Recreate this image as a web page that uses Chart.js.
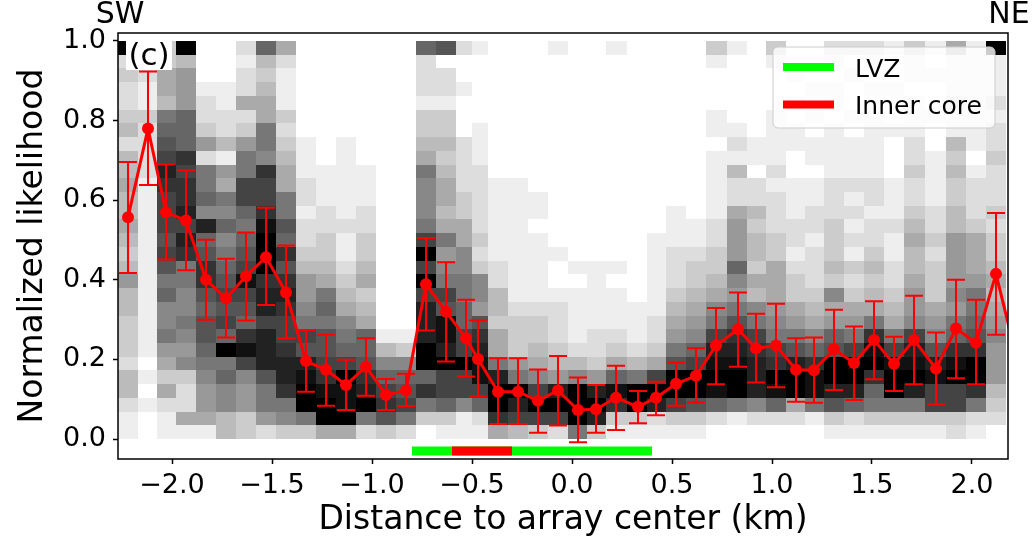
<!DOCTYPE html>
<html>
<head>
<meta charset="utf-8">
<script src="https://cdn.jsdelivr.net/npm/chart.js@4.4.1/dist/chart.umd.min.js"></script>
<style>
	html, body { margin: 0; padding: 0; background: #ffffff; }
	#wrap { position: relative; width: 1032px; height: 541px; }
</style>
</head>
<body>
<div id="wrap"><canvas id="chart"></canvas></div>
<script>
// station positions along the profile (km) and the picked likelihood with its error bar
const stationKm = [-2.22, -2.12, -2.03, -1.93, -1.83, -1.73, -1.63, -1.53, -1.43, -1.33,
	-1.23, -1.13, -1.03, -0.93, -0.83, -0.73, -0.63, -0.53, -0.47, -0.37,
	-0.27, -0.17, -0.07, 0.03, 0.12, 0.22, 0.33, 0.42, 0.52, 0.62,
	0.72, 0.83, 0.92, 1.02, 1.12, 1.21, 1.31, 1.41, 1.51, 1.61,
	1.71, 1.82, 1.92, 2.02, 2.12, 2.22];
const likelihood = [0.557, 0.780, 0.570, 0.549, 0.400, 0.354, 0.409, 0.457, 0.368, 0.196,
	0.174, 0.136, 0.182, 0.111, 0.122, 0.389, 0.320, 0.253, 0.201, 0.119,
	0.119, 0.096, 0.122, 0.073, 0.075, 0.104, 0.081, 0.104, 0.139, 0.159,
	0.235, 0.276, 0.228, 0.235, 0.174, 0.173, 0.226, 0.191, 0.249, 0.189,
	0.249, 0.177, 0.278, 0.242, 0.415, 0.21];
const errorHigh = [0.696, 0.923, 0.690, 0.675, 0.501, 0.453, 0.519, 0.581, 0.486, 0.274,
	0.262, 0.199, 0.253, 0.151, 0.164, 0.505, 0.444, 0.350, 0.298, 0.203,
	0.203, 0.175, 0.209, 0.155, 0.136, 0.184, 0.121, 0.144, 0.192, 0.228,
	0.329, 0.368, 0.315, 0.340, 0.253, 0.255, 0.325, 0.283, 0.346, 0.257,
	0.360, 0.268, 0.400, 0.350, 0.568, null];
const errorLow = [0.417, 0.638, 0.451, 0.424, 0.300, 0.255, 0.298, 0.337, 0.253, 0.119,
	0.084, 0.073, 0.109, 0.073, 0.083, 0.273, 0.195, 0.157, 0.107, 0.038,
	0.038, 0.016, 0.034, -0.008, 0.016, 0.023, 0.040, 0.060, 0.084, 0.092,
	0.138, 0.182, 0.142, 0.130, 0.094, 0.091, 0.123, 0.098, 0.150, 0.121,
	0.138, 0.087, 0.153, 0.138, 0.262, null];

// likelihood density per station, 29 bins from 1.0 (first char) down to 0.0,
// level 0 (white) .. f (black)
const densityColumns = [
	"f2322 34244 54454 34644 33324 4211",
	"12211 32222 11111 11111 11101 0100",
	"33554 89abd cbbba ba897 78653 5211",
	"f4666 999cb ccdbd c8877 87673 2251",
	"00012 23628 897d9 acca9 aa987 6651",
	"00011 22416 58797 89aba b9f89 7744",
	"21225 23688 bb989 abeba 9ceb7 6633",
	"94345 5887c bbcef ffcdd bddda 8862",
	"52111 32345 588a9 cacdc bbcdd c873",
	"00000 00111 22122 34667 8bade ff83",
	"00000 00001 11223 34589 8aabc eff5",
	"00000 00111 11121 12345 789bf eef5",
	"00000 00001 11223 34534 599ac df82",
	"00000 00000 00000 00000 01479 bca3",
	"00000 00000 00000 00000 01379 ab82",
	"92221 33458 7778b fbfbd ddff9 c830",
	"a0221 33434 55458 678ba eedfb b931",
	"20010 00222 23355 77889 9bbfb b711",
	"10000 01112 22223 23776 acdee b921",
	"00000 00000 11111 12244 3558d ffc5",
	"00000 00000 11111 11112 33368 fdb4",
	"00000 00000 01101 11112 33457 bfb3",
	"10000 00000 00000 10012 22346 dfb2",
	"00000 00000 00000 01011 11247 fff8",
	"00000 00000 00000 01111 12236 dfd3",
	"10000 00000 00000 01011 12359 ec31",
	"00000 00000 00000 00001 11248 ff31",
	"00000 00000 00001 11111 2235b fd21",
	"00000 00000 00111 22234 568af fb31",
	"00000 00000 00011 23345 679bf fa31",
	"31000 11011 11122 33457 8bdef e920",
	"10000 01214 22566 69768 acdef f810",
	"00000 00110 22434 43547 8bcdd d720",
	"31000 11112 12223 35556 78bcf e920",
	"00101 01100 11122 12335 68adf f520",
	"00010 10110 11221 22234 579ce e810",
	"21011 01111 22233 34375 69aff da31",
	"20100 10111 21212 13235 68bff d921",
	"21010 11111 22122 34345 8cefc 9831",
	"10010 01000 11121 12234 58bef f831",
	"31101 11223 22345 44566 7bdef d831",
	"10100 10011 11223 23335 67ade bb31",
	"51112 11434 33446 66676 89cef bb32",
	"11111 11101 22235 55688 9acff c821",
	"f1112 12232 22323 34545 67666 4320"
];

const lvzRange = [-0.8, 0.4];
const innerCoreRange = [-0.6, -0.3];
const zoneLevel = -0.03;

const xTicks = [-2.0, -1.5, -1.0, -0.5, 0.0, 0.5, 1.0, 1.5, 2.0];
const yTicks = [0.0, 0.2, 0.4, 0.6, 0.8, 1.0];
const xLimits = [-2.27, 2.18];
const yLimits = [-0.05, 1.02];

const FONT = "DejaVu Sans";
Chart.defaults.font.family = FONT;
Chart.defaults.color = "#000000";

function formatTick(value) {
	return value.toFixed(1).replace("-", "\u2212");
}

function clipToArea(ctx, area) {
	ctx.beginPath();
	ctx.rect(area.left, area.top, area.right - area.left, area.bottom - area.top);
	ctx.clip();
}

const backgroundPlugin = {
	id: "densityAndErrors",
	beforeDatasetsDraw(chart) {
		const {ctx, chartArea, scales} = chart;
		const x = scales.x;
		const y = scales.y;
		ctx.save();
		clipToArea(ctx, chartArea);

		densityColumns.forEach((text, i) => {
			const levels = text.replace(/ /g, "");
			const center = stationKm[i];
			const leftKm = i === 0 ? center - (stationKm[1] - center) / 2 : (stationKm[i - 1] + center) / 2;
			const rightKm = (center + stationKm[i + 1]) / 2;
			const left = Math.round(x.getPixelForValue(leftKm));
			const right = Math.round(x.getPixelForValue(rightKm));
			const rows = levels.length;
			for (let r = 0; r < rows; r++) {
				const level = parseInt(levels[r], 16) / 15;
				const top = Math.round(y.getPixelForValue(1 - r / rows));
				const bottom = Math.round(y.getPixelForValue(1 - (r + 1) / rows));
				const g = Math.round(255 * (1 - level));
				ctx.fillStyle = "rgb(" + g + "," + g + "," + g + ")";
				ctx.fillRect(left, top, right - left, bottom - top);
			}
		});

		ctx.strokeStyle = "#ff0000";
		ctx.lineWidth = 2;
		stationKm.forEach((km, i) => {
			if (errorHigh[i] === null) {
				return;
			}
			const px = x.getPixelForValue(km);
			const top = y.getPixelForValue(errorHigh[i]);
			const bottom = y.getPixelForValue(errorLow[i]);
			ctx.beginPath();
			ctx.moveTo(px, top);
			ctx.lineTo(px, bottom);
			ctx.moveTo(px - 9, top);
			ctx.lineTo(px + 9, top);
			ctx.moveTo(px - 9, bottom);
			ctx.lineTo(px + 9, bottom);
			ctx.stroke();
		});
		ctx.restore();
	}
};

const overlayPlugin = {
	id: "overlay",
	afterDraw(chart) {
		const {ctx, chartArea} = chart;
		ctx.save();

		// panel label
		ctx.fillStyle = "#ffffff";
		ctx.fillRect(chartArea.left + 8, chartArea.top + 1, 46, 36);
		ctx.fillStyle = "#000000";
		ctx.font = "31px '" + FONT + "'";
		ctx.textAlign = "center";
		ctx.textBaseline = "alphabetic";
		ctx.fillText("(c)", chartArea.left + 31, chartArea.top + 32);

		// legend
		const items = chart.data.datasets.filter(d => d.inLegend).sort((a, b) => b.order - a.order);
		const boxLeft = chartArea.right - 235;
		const boxTop = chartArea.top + 14;
		const boxWidth = 222;
		const boxHeight = 81;
		ctx.beginPath();
		ctx.roundRect(boxLeft, boxTop, boxWidth, boxHeight, 5);
		ctx.fillStyle = "rgba(255,255,255,0.8)";
		ctx.fill();
		ctx.strokeStyle = "#cccccc";
		ctx.lineWidth = 1;
		ctx.stroke();
		ctx.font = "25px '" + FONT + "'";
		ctx.textAlign = "left";
		items.forEach((item, i) => {
			const cy = boxTop + 20 + i * 37.5;
			ctx.strokeStyle = item.borderColor;
			ctx.lineWidth = 8;
			ctx.lineCap = "butt";
			ctx.beginPath();
			ctx.moveTo(boxLeft + 10, cy);
			ctx.lineTo(boxLeft + 61, cy);
			ctx.stroke();
			ctx.fillStyle = "#000000";
			ctx.fillText(item.label, boxLeft + 82, cy + 9.5);
		});

		// frame
		ctx.strokeStyle = "#000000";
		ctx.lineWidth = 1.5;
		ctx.strokeRect(chartArea.left, chartArea.top, chartArea.right - chartArea.left, chartArea.bottom - chartArea.top);

		// profile ends
		ctx.fillStyle = "#000000";
		ctx.font = "30px '" + FONT + "'";
		ctx.textAlign = "center";
		ctx.fillText("SW", chartArea.left + 2, 23);
		ctx.fillText("NE", chartArea.right + 1, 23);
		ctx.restore();
	}
};

function drawChart() {
	const canvas = document.getElementById("chart");
	const context = canvas.getContext("2d");
	const points = stationKm.map((km, i) => ({x: km, y: likelihood[i]}));
	const zone = range => range.map(km => ({x: km, y: zoneLevel}));
	const datasets = [
		{
			label: "Likelihood",
			data: points,
			borderColor: "#ff0000",
			backgroundColor: "#ff0000",
			borderWidth: 3,
			pointRadius: 6,
			pointBorderWidth: 0,
			pointHoverRadius: 6,
			clip: 0,
			order: 1
		},
		{
			label: "Inner core",
			inLegend: true,
			data: zone(innerCoreRange),
			borderColor: "#ff0000",
			borderWidth: 9,
			borderCapStyle: "butt",
			pointRadius: 0,
			clip: 0,
			order: 2
		},
		{
			label: "LVZ",
			inLegend: true,
			data: zone(lvzRange),
			borderColor: "#00ff00",
			borderWidth: 9,
			borderCapStyle: "butt",
			pointRadius: 0,
			clip: 0,
			order: 3
		}
	];
	const tickFont = {family: FONT, size: 27};
	const titleFont = {family: FONT, size: 33};
	const options = {
		type: "line",
		data: {
			datasets: datasets
		},
		options: {
			responsive: true,
			maintainAspectRatio: false,
			animation: false,
			layout: {
				padding: {top: 33, right: 24, left: 0, bottom: 0}
			},
			plugins: {
				legend: {display: false},
				tooltip: {enabled: false}
			},
			scales: {
				x: {
					type: "linear",
					min: xLimits[0],
					max: xLimits[1],
					afterBuildTicks: scale => { scale.ticks = xTicks.map(v => ({value: v})); },
					afterFit: scale => { scale.height = 82; },
					grid: {drawOnChartArea: false, tickLength: 5, tickWidth: 1.5, tickColor: "#000000"},
					border: {display: false},
					ticks: {
						font: tickFont,
						color: "#000000",
						padding: 6,
						maxRotation: 0,
						autoSkip: false,
						callback: value => formatTick(value)
					},
					title: {
						display: true,
						text: "Distance to array center (km)",
						font: titleFont,
						color: "#000000",
						padding: {top: 0, bottom: 1}
					}
				},
				y: {
					type: "linear",
					min: yLimits[0],
					max: yLimits[1],
					afterBuildTicks: scale => { scale.ticks = yTicks.map(v => ({value: v})); },
					afterFit: scale => { scale.width = 118; },
					grid: {drawOnChartArea: false, tickLength: 5, tickWidth: 1.5, tickColor: "#000000"},
					border: {display: false},
					ticks: {
						font: tickFont,
						color: "#000000",
						padding: 7,
						autoSkip: false,
						callback: value => formatTick(value)
					},
					title: {
						display: true,
						text: "Normalized likelihood",
						font: titleFont,
						color: "#000000",
						padding: {top: 14, bottom: 0}
					}
				}
			}
		},
		plugins: [backgroundPlugin, overlayPlugin]
	};
	new Chart(context, options);
}

document.addEventListener("DOMContentLoaded", _ => {
	drawChart();
});
</script>
</body>
</html>
